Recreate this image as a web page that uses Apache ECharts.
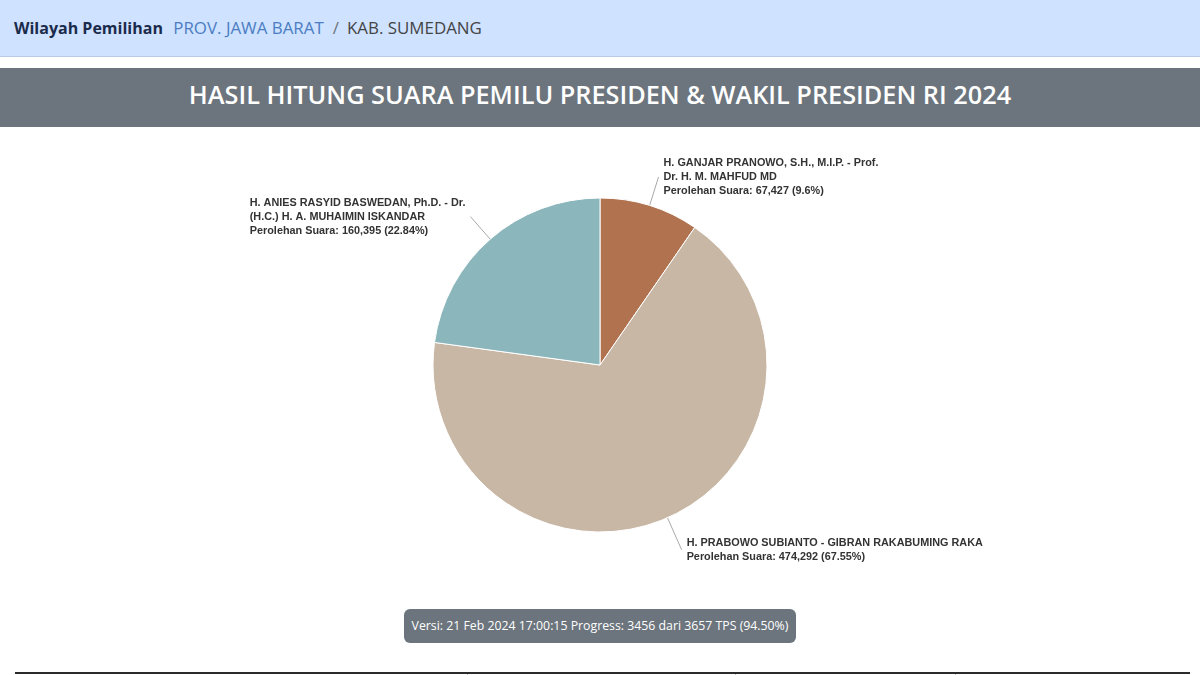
<!DOCTYPE html>
<html>
<head>
<meta charset="utf-8">
<title>Hasil Hitung Suara Pemilu Presiden 2024 - Kab. Sumedang</title>
<script src="https://cdn.jsdelivr.net/npm/echarts@6/dist/echarts.min.js"></script>
<style>
  html, body { margin: 0; padding: 0; background: #fff; }
  body { width: 1200px; height: 675px; position: relative; overflow: hidden; font-family: "Open Sans", sans-serif; }
  .wilayah {
    position: absolute; left: 0; top: 0; width: 1200px; height: 57px;
    background: #cfe2ff; border-bottom: 1px solid #b9cbe4;
    box-sizing: border-box; padding-left: 14px; line-height: 55px; font-size: 16.9px;
  }
  .wilayah b { color: #1b2b4b; font-weight: 700; font-size: 16px; margin-right: 6px; }
  .wilayah .prov { color: #4a7dc2; }
  .wilayah .sep { color: #6c757d; margin: 0 8px 0 9px; }
  .wilayah .kab { color: #444; }
  .judul {
    position: absolute; left: 0; top: 68px; width: 1200px; height: 59px;
    background: #6c757d; color: #fff; text-align: center;
    font-size: 25.3px; font-weight: 600; line-height: 52px;
  }
  #chart { position: absolute; left: 0; top: 127px; width: 1200px; height: 478px; }
  .versi {
    position: absolute; left: 404px; top: 609px; width: 392px; height: 34px;
    background: #6c757d; color: #fff; border-radius: 6px;
    font-size: 12.3px; line-height: 34px; text-align: center;
  }
  .tabel { position: absolute; left: 15px; top: 672px; width: 1175px; height: 3px; border-top: 2px solid #2b2b2b; }
  .tabel i { position: absolute; top: 0; width: 1px; height: 3px; background: #bbb; }
</style>
</head>
<body>
<div class="wilayah"><b>Wilayah Pemilihan</b> <span class="prov">PROV. JAWA BARAT</span><span class="sep">/</span><span class="kab">KAB. SUMEDANG</span></div>
<div class="judul">HASIL HITUNG SUARA PEMILU PRESIDEN &amp; WAKIL PRESIDEN RI 2024</div>
<div id="chart"></div>
<div class="versi">Versi: 21 Feb 2024 17:00:15 Progress: 3456 dari 3657 TPS (94.50%)</div>
<div class="tabel"><i style="left:452px"></i><i style="left:720px"></i><i style="left:940px"></i></div>
<script>
// pasangan calon, urutan searah jarum jam dari jam 12
const paslon = [
  'H. GANJAR PRANOWO, S.H., M.I.P. - Prof. Dr. H. M. MAHFUD MD',
  'H. PRABOWO SUBIANTO - GIBRAN RAKABUMING RAKA',
  'H. ANIES RASYID BASWEDAN, Ph.D. - Dr. (H.C.) H. A. MUHAIMIN ISKANDAR',
];
// nama seperti terpotong di label
const namaBaris = [
  ['H. GANJAR PRANOWO, S.H., M.I.P. - Prof.', 'Dr. H. M. MAHFUD MD'],
  ['H. PRABOWO SUBIANTO - GIBRAN RAKABUMING RAKA'],
  ['H. ANIES RASYID BASWEDAN, Ph.D. - Dr.', '(H.C.) H. A. MUHAIMIN ISKANDAR'],
];
const suara = [67427, 474292, 160395];
const persen = [9.6, 67.55, 22.84];
const warna = ['#b1734f', '#c8b7a4', '#8bb6bb'];
const panjangGaris = [30, 35, 30];

const chart = echarts.init(document.getElementById('chart'));
const fmt = (v) => v.toLocaleString('en-US');

chart.setOption({
  animation: false,
  series: [{
    type: 'pie',
    center: [600, 238],
    radius: 167,
    startAngle: 90,
    clockwise: true,
    avoidLabelOverlap: false,
    itemStyle: { borderColor: '#fff', borderWidth: 1 },
    emphasis: { disabled: true },
    label: {
      show: true,
      position: 'outside',
      distanceToLabelLine: 5,
      fontFamily: 'Liberation Sans, Arial, sans-serif',
      formatter: (p) => {
        const i = p.dataIndex;
        const baris = namaBaris[i].map((t) => `{n|${t}}`);
        baris.push(`{n|Perolehan Suara: ${fmt(suara[i])} (${persen[i]}%)}`);
        return baris.join('\n');
      },
      rich: {
        n: {
          align: 'left',
          fontFamily: 'Liberation Sans, Arial, sans-serif',
          fontSize: 10.85,
          fontWeight: 'bold',
          color: '#333',
          lineHeight: 14,
        },
      },
    },
    labelLine: {
      show: true,
      length2: 0,
      lineStyle: { color: '#a8a8a8', width: 1 },
    },
    data: paslon.map((nama, i) => ({
      name: nama,
      value: suara[i],
      itemStyle: { color: warna[i] },
      labelLine: { length: panjangGaris[i] },
    })),
  }],
});
</script>
</body>
</html>
